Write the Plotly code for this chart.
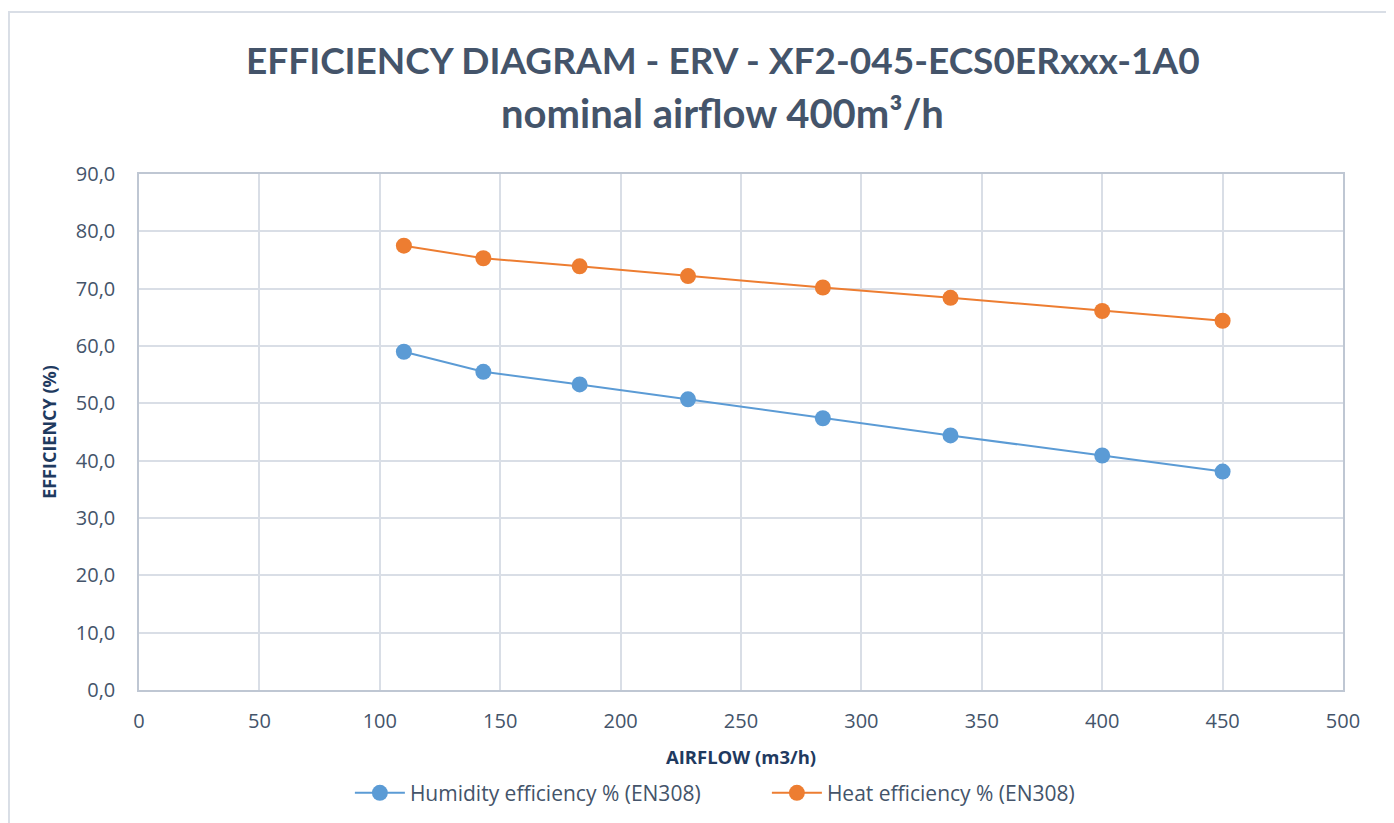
import plotly.graph_objects as go

airflow = [110, 143, 183, 228, 284, 337, 400, 450]
humidity_eff = [59.0, 55.5, 53.3, 50.7, 47.4, 44.4, 40.9, 38.1]
heat_eff = [77.5, 75.3, 73.9, 72.2, 70.2, 68.4, 66.1, 64.4]

x_ticks = [0, 50, 100, 150, 200, 250, 300, 350, 400, 450, 500]
y_ticks = [0, 10, 20, 30, 40, 50, 60, 70, 80, 90]

title_line1 = "EFFICIENCY DIAGRAM - ERV - XF2-045-ECS0ERxxx-1A0"
title_line2 = "nominal airflow 400m³/h"

txt = "#44546A"
navy = "#1F3A5F"
grid = "#D9DEE6"

fig = go.Figure()
fig.add_trace(go.Scatter(
    x=airflow, y=humidity_eff, mode="lines+markers",
    name="Humidity efficiency % (EN308)",
    line=dict(color="#5B9BD5", width=2),
    marker=dict(color="#5B9BD5", size=16, line=dict(width=0)),
))
fig.add_trace(go.Scatter(
    x=airflow, y=heat_eff, mode="lines+markers",
    name="Heat efficiency % (EN308)",
    line=dict(color="#ED7D31", width=2),
    marker=dict(color="#ED7D31", size=16, line=dict(width=0)),
))

fig.update_layout(
    width=1394, height=823,
    margin=dict(l=131, r=59, t=166, b=141),
    paper_bgcolor="white", plot_bgcolor="white",
    separators=",.",
    font=dict(family="Open Sans, Lato, sans-serif", color=txt),
    xaxis=dict(
        range=[0, 500], tickvals=x_ticks, showgrid=True, gridcolor=grid, gridwidth=2,
        zeroline=False, showline=True, linecolor="#BFC7D3", linewidth=1.5, mirror=True,
        ticks="", tickfont=dict(size=20, color=txt), ticklabelstandoff=12,
        title=dict(text="<b>AIRFLOW (m3/h)</b>", font=dict(size=18.5, color=navy), standoff=18),
    ),
    yaxis=dict(
        range=[0, 90], tickvals=y_ticks, tickformat=".1f", showgrid=True, gridcolor=grid, gridwidth=2,
        zeroline=False, showline=True, linecolor="#BFC7D3", linewidth=1.5, mirror=True,
        ticks="", tickfont=dict(size=20, color=txt), ticklabelstandoff=18,
        title=dict(text="<b>EFFICIENCY (%)</b>", font=dict(size=18, color=navy), standoff=14),
    ),
    legend=dict(
        orientation="h", x=0.5215, xanchor="center", y=-0.20, yanchor="middle",
        font=dict(size=21, color=txt), itemwidth=50,
        entrywidth=352, entrywidthmode="pixels",
    ),
    showlegend=True,
)

fig.add_annotation(text="<b>" + title_line1 + "</b>", xref="paper", yref="paper",
                   x=0.485, y=1.222, xanchor="center", yanchor="middle", showarrow=False,
                   font=dict(family="Lato, Open Sans, sans-serif", size=37, color=txt))
fig.add_annotation(text="<b>" + title_line2 + "</b>", xref="paper", yref="paper",
                   x=0.485, y=1.118, xanchor="center", yanchor="middle", showarrow=False,
                   font=dict(family="Lato, Open Sans, sans-serif", size=40, color=txt))

fig.add_shape(type="rect", xref="paper", yref="paper",
              x0=-0.108, x1=1.1, y0=-0.4, y1=1.314,
              line=dict(color=grid, width=2), layer="below")

fig.write_html("out.html")
